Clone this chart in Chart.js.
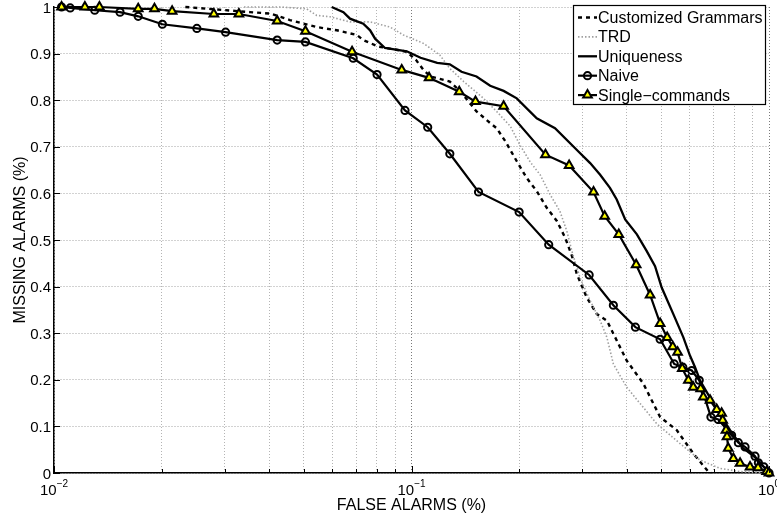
<!DOCTYPE html>
<html>
<head>
<meta charset="utf-8">
<title>Missing vs false alarms</title>
<script src="https://cdn.jsdelivr.net/npm/chart.js@4.4.1/dist/chart.umd.min.js"></script>
<style>
  html, body { margin: 0; padding: 0; background: #fff; }
</style>
</head>
<body>
<canvas id="roc" width="777" height="520"></canvas>
<script>
// false alarm rate (x) / missing alarm rate (y) for each detector
const grammarsFA = [0.0233, 0.0353, 0.0402, 0.0457, 0.0543, 0.0618, 0.0703, 0.0733, 0.0808, 0.0852,
  0.0970, 0.103, 0.108, 0.113, 0.128, 0.137, 0.152, 0.166, 0.173, 0.183,
  0.197, 0.210, 0.224, 0.239, 0.255, 0.269, 0.281, 0.290, 0.309, 0.330,
  0.352, 0.367, 0.400, 0.445, 0.496, 0.552, 0.614, 0.676, 0.69];
const grammarsMA = [1.0, 0.989, 0.986, 0.972, 0.957, 0.950, 0.940, 0.929, 0.915, 0.912,
  0.904, 0.886, 0.865, 0.851, 0.840, 0.819, 0.776, 0.751, 0.740, 0.712,
  0.669, 0.633, 0.605, 0.569, 0.541, 0.505, 0.466, 0.427, 0.377, 0.341,
  0.327, 0.299, 0.241, 0.192, 0.120, 0.092, 0.042, 0.003, 0.0];

const trdFA = [0.0340, 0.0429, 0.0509, 0.0543, 0.0592, 0.0673, 0.0766, 0.0871, 0.0949, 0.108,
  0.120, 0.128, 0.140, 0.159, 0.173, 0.189, 0.201, 0.215, 0.229, 0.244,
  0.260, 0.272, 0.281, 0.296, 0.316, 0.337, 0.352, 0.367, 0.400, 0.436,
  0.485, 0.564, 0.641, 0.729, 0.830, 1.0];
const trdMA = [1.0, 1.0, 0.996, 0.982, 0.979, 0.968, 0.968, 0.957, 0.940, 0.922,
  0.897, 0.868, 0.840, 0.804, 0.776, 0.744, 0.704, 0.667, 0.640, 0.598,
  0.562, 0.519, 0.476, 0.419, 0.370, 0.327, 0.291, 0.234, 0.184, 0.149,
  0.106, 0.063, 0.028, 0.010, 0.003, 0.0];

const uniqueFA = [0.0598, 0.0645, 0.0673, 0.0733, 0.0766, 0.0791, 0.0843, 0.0970, 0.106, 0.118,
  0.128, 0.138, 0.152, 0.166, 0.181, 0.197, 0.224, 0.252, 0.293, 0.316,
  0.337, 0.359, 0.375, 0.396, 0.427, 0.455, 0.480, 0.501, 0.540, 0.576,
  0.601, 0.621, 0.641, 0.699, 0.778, 0.847, 0.924, 0.985, 1.0];
const uniqueMA = [1.0, 0.989, 0.975, 0.964, 0.950, 0.932, 0.912, 0.905, 0.891, 0.880,
  0.877, 0.861, 0.851, 0.831, 0.820, 0.804, 0.761, 0.740, 0.690, 0.665,
  0.640, 0.612, 0.587, 0.544, 0.512, 0.476, 0.444, 0.398, 0.341, 0.291,
  0.252, 0.227, 0.199, 0.149, 0.092, 0.053, 0.031, 0.006, 0.0];

const naiveFA = [0.0105, 0.0111, 0.0130, 0.0153, 0.0172, 0.0201, 0.0251, 0.0302, 0.0421, 0.0505,
  0.0687, 0.0801, 0.0959, 0.111, 0.128, 0.154, 0.200, 0.242, 0.314, 0.367,
  0.423, 0.496, 0.543, 0.574, 0.608, 0.638, 0.688, 0.721, 0.786, 0.821,
  0.857, 0.914, 0.934, 0.968, 1.0];
const naiveMA = [1.0, 0.998, 0.993, 0.989, 0.980, 0.963, 0.954, 0.946, 0.929, 0.925,
  0.890, 0.855, 0.778, 0.742, 0.685, 0.603, 0.560, 0.490, 0.425, 0.360,
  0.313, 0.287, 0.234, 0.227, 0.220, 0.199, 0.120, 0.115, 0.081, 0.065,
  0.056, 0.036, 0.022, 0.013, 0.0];

const singleFA = [0.0105, 0.0122, 0.0134, 0.0172, 0.0191, 0.0214, 0.0280, 0.0329, 0.0421, 0.0505,
  0.0682, 0.0939, 0.112, 0.136, 0.151, 0.181, 0.237, 0.276, 0.323, 0.347,
  0.380, 0.425, 0.465, 0.496, 0.519, 0.538, 0.555, 0.572, 0.595, 0.614,
  0.644, 0.655, 0.684, 0.714, 0.737, 0.742, 0.758, 0.763, 0.769, 0.795,
  0.830, 0.885, 0.932, 0.985, 1.0];
const singleMA = [1.0, 1.0, 1.0, 0.996, 0.996, 0.991, 0.985, 0.985, 0.970, 0.948,
  0.904, 0.865, 0.848, 0.818, 0.797, 0.787, 0.683, 0.660, 0.603, 0.551,
  0.512, 0.447, 0.382, 0.321, 0.291, 0.271, 0.259, 0.224, 0.199, 0.184,
  0.181, 0.163, 0.156, 0.136, 0.128, 0.113, 0.092, 0.078, 0.053, 0.031,
  0.021, 0.013, 0.011, 0.003, 0.0];

const seriesNames = ['Customized Grammars', 'TRD', 'Uniqueness', 'Naive', 'Single\u2212commands'];
const xTickExponents = [-2, -1, 0];
const yTickValues = [0, 0.1, 0.2, 0.3, 0.4, 0.5, 0.6, 0.7, 0.8, 0.9, 1];
const xTitle = 'FALSE ALARMS (%)';
const yTitle = 'MISSING ALARMS (%)';

const FONT = '"Liberation Sans", Helvetica, Arial, sans-serif';

// grid lines on every 1..9 step of each decade
const xGridValues = [];
for (let e = -2; e < 0; e++) {
  for (let m = 1; m < 10; m++) xGridValues.push(m * Math.pow(10, e));
}
xGridValues.push(1);

const toPoints = (xs, ys) => xs.map((v, i) => ({ x: v, y: ys[i] }));

const datasets = [
  { label: seriesNames[0], data: toPoints(grammarsFA, grammarsMA), borderColor: '#000',
    borderWidth: 2.4, borderDash: [4, 4], pointRadius: 0, order: 5 },
  { label: seriesNames[1], data: toPoints(trdFA, trdMA), borderColor: '#a0a0a0',
    borderWidth: 1.6, borderDash: [1.5, 2], pointRadius: 0, order: 4 },
  { label: seriesNames[2], data: toPoints(uniqueFA, uniqueMA), borderColor: '#000',
    borderWidth: 2.3, pointRadius: 0, order: 3 },
  { label: seriesNames[3], data: toPoints(naiveFA, naiveMA), borderColor: '#000', borderWidth: 2.2,
    pointStyle: 'circle', pointRadius: 3.6, pointBorderWidth: 2,
    pointBorderColor: '#000', pointBackgroundColor: 'rgba(0,0,0,0)', order: 2 },
  { label: seriesNames[4], data: toPoints(singleFA, singleMA), borderColor: '#000', borderWidth: 2.2,
    pointStyle: 'triangle', pointRadius: 5, pointBorderWidth: 2,
    pointBorderColor: '#000', pointBackgroundColor: '#ffff00', order: 1 }
];
datasets.forEach(d => { d.showLine = true; d.clip = false; });

function drawMarker(ctx, ds, cx, cy) {
  if (!ds.pointRadius) return;
  const r = ds.pointRadius;
  ctx.save();
  ctx.setLineDash([]);
  ctx.lineWidth = ds.pointBorderWidth;
  ctx.strokeStyle = ds.pointBorderColor;
  ctx.fillStyle = ds.pointBackgroundColor;
  ctx.beginPath();
  if (ds.pointStyle === 'triangle') {
    ctx.moveTo(cx, cy - r);
    ctx.lineTo(cx + 0.866 * r, cy + 0.5 * r);
    ctx.lineTo(cx - 0.866 * r, cy + 0.5 * r);
    ctx.closePath();
  } else {
    ctx.arc(cx, cy, r, 0, Math.PI * 2);
  }
  ctx.fill();
  ctx.stroke();
  ctx.restore();
}

// inside tick marks, tick labels with superscripts, axis titles and the boxed legend
const axisDecor = {
  id: 'axisDecor',
  afterDraw(chart) {
    const { ctx, chartArea: area, scales: { x, y } } = chart;
    ctx.save();

    ctx.strokeStyle = '#000';
    ctx.lineWidth = 1;
    ctx.beginPath();
    yTickValues.forEach(v => {
      const py = Math.round(y.getPixelForValue(v)) + 0.5;
      ctx.moveTo(area.left, py);
      ctx.lineTo(area.left + 6, py);
    });
    x.ticks.forEach(t => {
      const px = Math.round(x.getPixelForValue(t.value)) + 0.5;
      ctx.moveTo(px, area.bottom);
      ctx.lineTo(px, area.bottom - (t.major ? 7 : 4));
    });
    ctx.stroke();

    ctx.fillStyle = '#000';
    ctx.font = '15px ' + FONT;
    ctx.textAlign = 'right';
    ctx.textBaseline = 'alphabetic';
    yTickValues.forEach(v => {
      ctx.fillText(String(v), area.left - 3, y.getPixelForValue(v) + 5.5);
    });

    ctx.textAlign = 'left';
    xTickExponents.forEach(e => {
      const px = x.getPixelForValue(Math.pow(10, e));
      const sup = e < 0 ? '\u2212' + Math.abs(e) : String(e);
      ctx.font = '15px ' + FONT;
      const wBase = ctx.measureText('10').width;
      ctx.font = '10px ' + FONT;
      const wSup = ctx.measureText(sup).width;
      const x0 = px - (wBase + wSup) / 2;
      ctx.font = '15px ' + FONT;
      ctx.fillText('10', x0, 495);
      ctx.font = '10px ' + FONT;
      ctx.fillText(sup, x0 + wBase, 487);
    });

    ctx.font = '16px ' + FONT;
    ctx.textAlign = 'center';
    ctx.fillText(xTitle, (area.left + area.right) / 2, 510);
    ctx.save();
    ctx.translate(25, (area.top + area.bottom) / 2);
    ctx.rotate(-Math.PI / 2);
    ctx.fillText(yTitle, 0, 0);
    ctx.restore();

    // legend
    const box = { left: 573.5, top: 5.5, width: 192, height: 99 };
    ctx.fillStyle = '#fff';
    ctx.fillRect(box.left, box.top, box.width, box.height);
    ctx.strokeStyle = '#000';
    ctx.lineWidth = 1.2;
    ctx.strokeRect(box.left, box.top, box.width, box.height);

    ctx.font = '16px ' + FONT;
    ctx.textAlign = 'left';
    chart.data.datasets.forEach((ds, i) => {
      const base = 23 + i * 19.4;
      const ly = base - 5.5;
      ctx.save();
      ctx.strokeStyle = ds.borderColor;
      ctx.lineWidth = ds.borderWidth;
      ctx.setLineDash(ds.borderDash || []);
      ctx.beginPath();
      ctx.moveTo(578, ly);
      ctx.lineTo(597, ly);
      ctx.stroke();
      ctx.restore();
      drawMarker(ctx, ds, 587.5, ly);
      ctx.fillStyle = '#000';
      ctx.fillText(ds.label, 598, base);
    });

    ctx.restore();
  }
};

new Chart(document.getElementById('roc'), {
  type: 'scatter',
  data: { datasets: datasets },
  plugins: [axisDecor],
  options: {
    responsive: false,
    animation: false,
    events: [],
    layout: { padding: { top: 5, right: 8, left: 0, bottom: 0 } },
    plugins: { legend: { display: false }, tooltip: { enabled: false } },
    scales: {
      x: {
        type: 'logarithmic',
        min: 0.01,
        max: 1,
        afterBuildTicks: scale => {
          scale.ticks = xGridValues.map(v => ({
            value: v,
            major: Math.abs(Math.log10(v) - Math.round(Math.log10(v))) < 1e-9
          }));
        },
        afterFit: scale => { scale.height = 47; },
        ticks: { display: false },
        grid: {
          drawTicks: false,
          lineWidth: 1,
          color: c => (c.tick && c.tick.major) ? '#7a7a7a' : '#b4b4b4'
        },
        border: { display: true, color: '#000', width: 1.5, dash: [1, 2] }
      },
      y: {
        type: 'linear',
        min: 0,
        max: 1,
        afterFit: scale => { scale.width = 54; },
        ticks: { display: false, stepSize: 0.1 },
        grid: { drawTicks: false, lineWidth: 1, color: '#a4a4a4' },
        border: { display: true, color: '#000', width: 1.5, dash: [1, 2] }
      }
    }
  }
});
</script>
</body>
</html>
